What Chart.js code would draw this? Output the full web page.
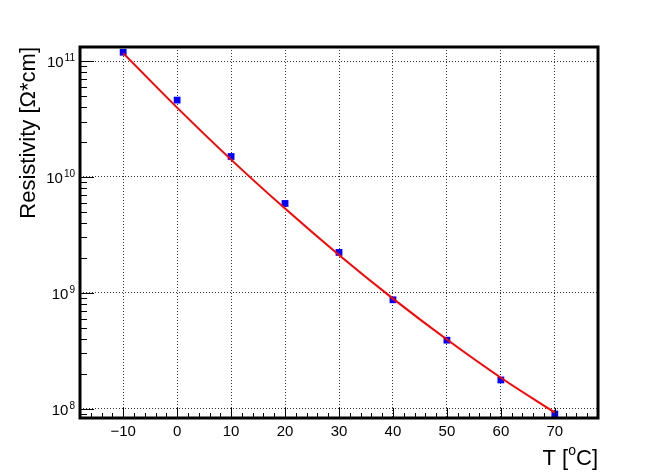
<!DOCTYPE html>
<html>
<head>
<meta charset="utf-8">
<script src="https://cdn.jsdelivr.net/npm/chart.js@4.4.0/dist/chart.umd.min.js"></script>
<style>
  html, body { margin: 0; padding: 0; background: #fff; }
</style>
</head>
<body>
<canvas id="chart" width="664" height="476"></canvas>
<script>
// measured points
const temps = [-10, 0, 10, 20, 30, 40, 50, 60, 70];
const resist = [1.19e11, 4.6e10, 1.5e10, 5.9e9, 2.23e9, 8.7e8, 3.9e8, 1.77e8, 9.0e7];

// fit curve
const fitT = [-10, 0, 10, 20, 30, 40, 50, 60, 70];
const fitR = [1.17e11, 3.96e10, 1.41e10, 5.33e9, 2.12e9, 8.9e8, 3.95e8, 1.85e8, 9.25e7];

const xTicks = [-10, 0, 10, 20, 30, 40, 50, 60, 70];
const yTicks = [1e8, 1e9, 1e10, 1e11];
const yExp = ['8', '9', '10', '11'];

const FONT = "'Liberation Sans', Arial, Helvetica, sans-serif";

// frame, inner tick marks, log labels and axis titles (ROOT look)
const rootFrame = {
  id: 'rootFrame',
  afterDraw(chart) {
    const ctx = chart.ctx;
    const a = chart.chartArea;
    const xs = chart.scales.x;
    const ys = chart.scales.y;
    ctx.save();
    ctx.strokeStyle = '#000';
    ctx.lineWidth = 1;

    // x ticks
    ctx.beginPath();
    for (let v = -18; v <= 78; v += 2) {
      const px = Math.round(xs.getPixelForValue(v)) + 0.5;
      const len = (v % 10 === 0) ? 10 : 5;
      ctx.moveTo(px, a.bottom);
      ctx.lineTo(px, a.bottom - len);
    }
    // y ticks
    for (let d = 7; d <= 11; d++) {
      for (let m = 1; m <= 9; m++) {
        const v = m * Math.pow(10, d);
        if (v < ys.min || v > ys.max) continue;
        const py = Math.round(ys.getPixelForValue(v)) + 0.5;
        const len = m === 1 ? 14 : 7;
        ctx.moveTo(a.left, py);
        ctx.lineTo(a.left + len, py);
      }
    }
    ctx.stroke();

    // frame
    ctx.lineWidth = 3;
    ctx.strokeRect(a.left, a.top, a.right - a.left, a.bottom - a.top);

    // y labels 10^n
    ctx.fillStyle = '#000';
    ctx.textBaseline = 'alphabetic';
    yTicks.forEach((v, i) => {
      const py = ys.getPixelForValue(v);
      ctx.font = '10px ' + FONT;
      const we = ctx.measureText(yExp[i]).width;
      ctx.textAlign = 'right';
      ctx.fillText(yExp[i], 75, py);
      ctx.font = '15px ' + FONT;
      ctx.fillText('10', 75 - we - 1, py + 6);
    });

    // x title  T [oC]
    ctx.font = '22px ' + FONT;
    const w1 = ctx.measureText('T [').width;
    const w3 = ctx.measureText('C]').width;
    ctx.font = '14px ' + FONT;
    const w2 = ctx.measureText('o').width;
    let x0 = 598 - (w1 + w2 + w3);
    ctx.textAlign = 'left';
    ctx.font = '22px ' + FONT;
    ctx.fillText('T [', x0, 465);
    ctx.font = '14px ' + FONT;
    ctx.fillText('o', x0 + w1, 455);
    ctx.font = '22px ' + FONT;
    ctx.fillText('C]', x0 + w1 + w2, 465);

    // y title
    ctx.translate(35, 47);
    ctx.rotate(-Math.PI / 2);
    ctx.textAlign = 'right';
    ctx.fillText('Resistivity [Ω*cm]', 0, 0);
    ctx.restore();
  }
};

new Chart(document.getElementById('chart'), {
  type: 'line',
  data: {
    datasets: [
      {
        label: 'fit',
        data: fitT.map((t, i) => ({ x: t, y: fitR[i] })),
        borderColor: '#ff0000',
        borderWidth: 2,
        pointRadius: 0,
        cubicInterpolationMode: 'monotone',
        fill: false
      },
      {
        label: 'data',
        data: temps.map((t, i) => ({ x: t, y: resist[i] })),
        showLine: false,
        pointStyle: 'rect',
        pointRadius: 4.8,
        pointBorderWidth: 0,
        pointBackgroundColor: '#0000ff',
        pointBorderColor: '#0000ff'
      }
    ]
  },
  options: {
    responsive: false,
    animation: false,
    events: [],
    layout: { padding: { top: 47, right: 66, left: 0, bottom: 0 } },
    plugins: { legend: { display: false }, tooltip: { enabled: false } },
    scales: {
      x: {
        type: 'linear',
        min: -18,
        max: 78,
        afterBuildTicks: s => { s.ticks = xTicks.map(v => ({ value: v })); },
        afterFit: s => { s.height = 58; },
        grid: { color: 'rgba(0,0,0,0.8)', lineWidth: 1, drawTicks: false },
        border: { display: false, dash: [1, 2] },
        ticks: {
          color: '#000',
          font: { family: FONT, size: 15 },
          padding: 5,
          maxRotation: 0,
          callback: v => String(v).replace('-', '\u2212')
        }
      },
      y: {
        type: 'logarithmic',
        min: 8.31e7,
        max: 1.321e11,
        afterBuildTicks: s => { s.ticks = yTicks.map(v => ({ value: v })); },
        afterFit: s => { s.width = 80; },
        grid: { color: 'rgba(0,0,0,0.8)', lineWidth: 1, drawTicks: false },
        border: { display: false, dash: [1, 2] },
        ticks: { display: false }
      }
    }
  },
  plugins: [rootFrame]
});
</script>
</body>
</html>
